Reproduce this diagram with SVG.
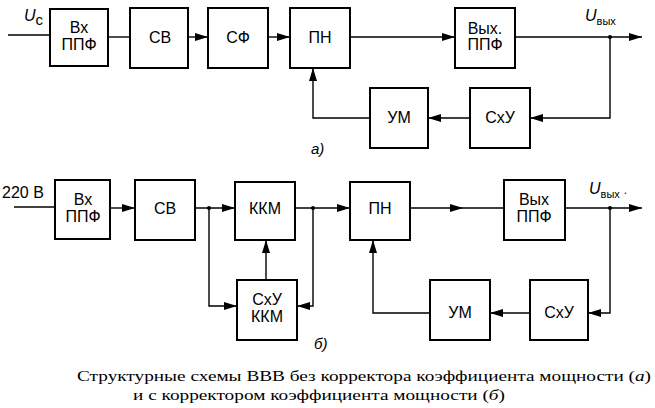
<svg xmlns="http://www.w3.org/2000/svg" width="655" height="408" viewBox="0 0 655 408">
<style>
.box{fill:#fff;stroke:#000;stroke-width:2}
.ln{fill:none;stroke:#000;stroke-width:1.4}
.ar{marker-end:url(#ah)}
.t{font-family:"Liberation Sans",Arial,sans-serif;font-size:16px;text-anchor:middle;fill:#000}
.it{font-family:"Liberation Sans",Arial,sans-serif;font-style:italic;fill:#000}
.cap{font-family:"Liberation Serif","Times New Roman",serif;font-size:15px;fill:#000}
</style>
<defs>
<marker id="ah" markerUnits="userSpaceOnUse" markerWidth="14" markerHeight="9" refX="13" refY="4" orient="auto">
<path d="M0,0 L13,4 L0,8 z" fill="#000"/>
</marker>
</defs>
<rect width="655" height="408" fill="#fff"/>

<g id="connectors">
<path class="ln" d="M8,35 H50"/>
<path class="ln" d="M108,37 H130"/>
<path class="ln ar" d="M188,37 H208"/>
<path class="ln ar" d="M268,37 H290"/>
<path class="ln ar" d="M350,37 H455"/>
<path class="ln ar" d="M515,37 H642"/>
<path class="ln ar" d="M610,37 V118 H530"/>
<path class="ln ar" d="M470,118 H428"/>
<path class="ln ar" d="M370,118 H313 V68"/>
<circle cx="610" cy="37" r="2"/>

<path class="ln" d="M14,207 H55"/>
<path class="ln ar" d="M110,208 H135"/>
<path class="ln ar" d="M195,208 H235"/>
<path class="ln ar" d="M209,208 V306 H237"/>
<path class="ln ar" d="M295,208 H350"/>
<path class="ln ar" d="M313,208 V306 H297"/>
<path class="ln ar" d="M266,280 V240"/>
<path class="ln ar" d="M410,208 H463"/>
<path class="ln" d="M463,208 H504"/>
<path class="ln ar" d="M565,208 H642"/>
<path class="ln ar" d="M610,208 V313 H588"/>
<path class="ln ar" d="M530,313 H490"/>
<path class="ln ar" d="M430,313 H373 V240"/>
<circle cx="209" cy="208" r="2"/>
<circle cx="313" cy="208" r="2"/>
<circle cx="610" cy="208" r="2"/>
</g>

<g id="a-vxppf"><rect class="box" x="50" y="9" width="58" height="57"/><text class="t" x="79" y="33">Вх</text><text class="t" x="79" y="50">ППФ</text></g>
<g id="a-sv"><rect class="box" x="130" y="8" width="58" height="60"/><text class="t" x="160" y="43">СВ</text></g>
<g id="a-sf"><rect class="box" x="208" y="8" width="60" height="60"/><text class="t" x="238" y="43">СФ</text></g>
<g id="a-pn"><rect class="box" x="290" y="8" width="60" height="60"/><text class="t" x="320" y="43">ПН</text></g>
<g id="a-vyxppf"><rect class="box" x="455" y="8" width="60" height="60"/><text class="t" x="485" y="34">Вых.</text><text class="t" x="485" y="50">ППФ</text></g>
<g id="a-um"><rect class="box" x="370" y="88" width="58" height="60"/><text class="t" x="399" y="123">УМ</text></g>
<g id="a-sxu"><rect class="box" x="470" y="88" width="60" height="60"/><text class="t" x="500" y="123">СхУ</text></g>

<g id="b-vxppf"><rect class="box" x="55" y="180" width="55" height="59"/><text class="t" x="83" y="205">Вх</text><text class="t" x="83" y="222">ППФ</text></g>
<g id="b-sv"><rect class="box" x="135" y="180" width="60" height="60"/><text class="t" x="165" y="214">СВ</text></g>
<g id="b-kkm"><rect class="box" x="235" y="182" width="60" height="58"/><text class="t" x="265" y="214">ККМ</text></g>
<g id="b-sxukkm"><rect class="box" x="237" y="280" width="60" height="60"/><text class="t" x="267" y="305">СхУ</text><text class="t" x="267" y="322">ККМ</text></g>
<g id="b-pn"><rect class="box" x="350" y="182" width="60" height="58"/><text class="t" x="380" y="214">ПН</text></g>
<g id="b-vyxppf"><rect class="box" x="504" y="180" width="61" height="60"/><text class="t" x="534" y="205">Вых</text><text class="t" x="534" y="222">ППФ</text></g>
<g id="b-um"><rect class="box" x="430" y="280" width="60" height="60"/><text class="t" x="460" y="318">УМ</text></g>
<g id="b-sxu"><rect class="box" x="530" y="280" width="58" height="60"/><text class="t" x="559" y="318">СхУ</text></g>

<g id="labels">
<text x="24" y="21" class="it" font-size="16">U<tspan font-style="normal" font-size="15" dy="4">с</tspan></text>
<text x="585" y="21" class="it" font-size="16">U<tspan font-style="normal" font-size="11" dy="4">вых</tspan></text>
<text x="589" y="194" class="it" font-size="16">U<tspan font-style="normal" font-size="11" dy="4">вых</tspan><tspan font-style="normal" font-size="12" dx="4" dy="-4">.</tspan></text>
<text x="2" y="198" class="t" style="text-anchor:start" font-size="15">220 В</text>
<text x="311" y="154" class="it" font-size="15">а)</text>
<text x="314" y="349" class="it" font-size="15">б)</text>
</g>

<g id="caption">
<text class="cap" x="77" y="381" textLength="574" lengthAdjust="spacingAndGlyphs">Структурные схемы ВВВ без корректора коэффициента мощности (<tspan font-style="italic">а</tspan>)</text>
<text class="cap" x="133" y="400" textLength="372" lengthAdjust="spacingAndGlyphs">и с корректором коэффициента мощности (<tspan font-style="italic">б</tspan>)</text>
</g>
</svg>
